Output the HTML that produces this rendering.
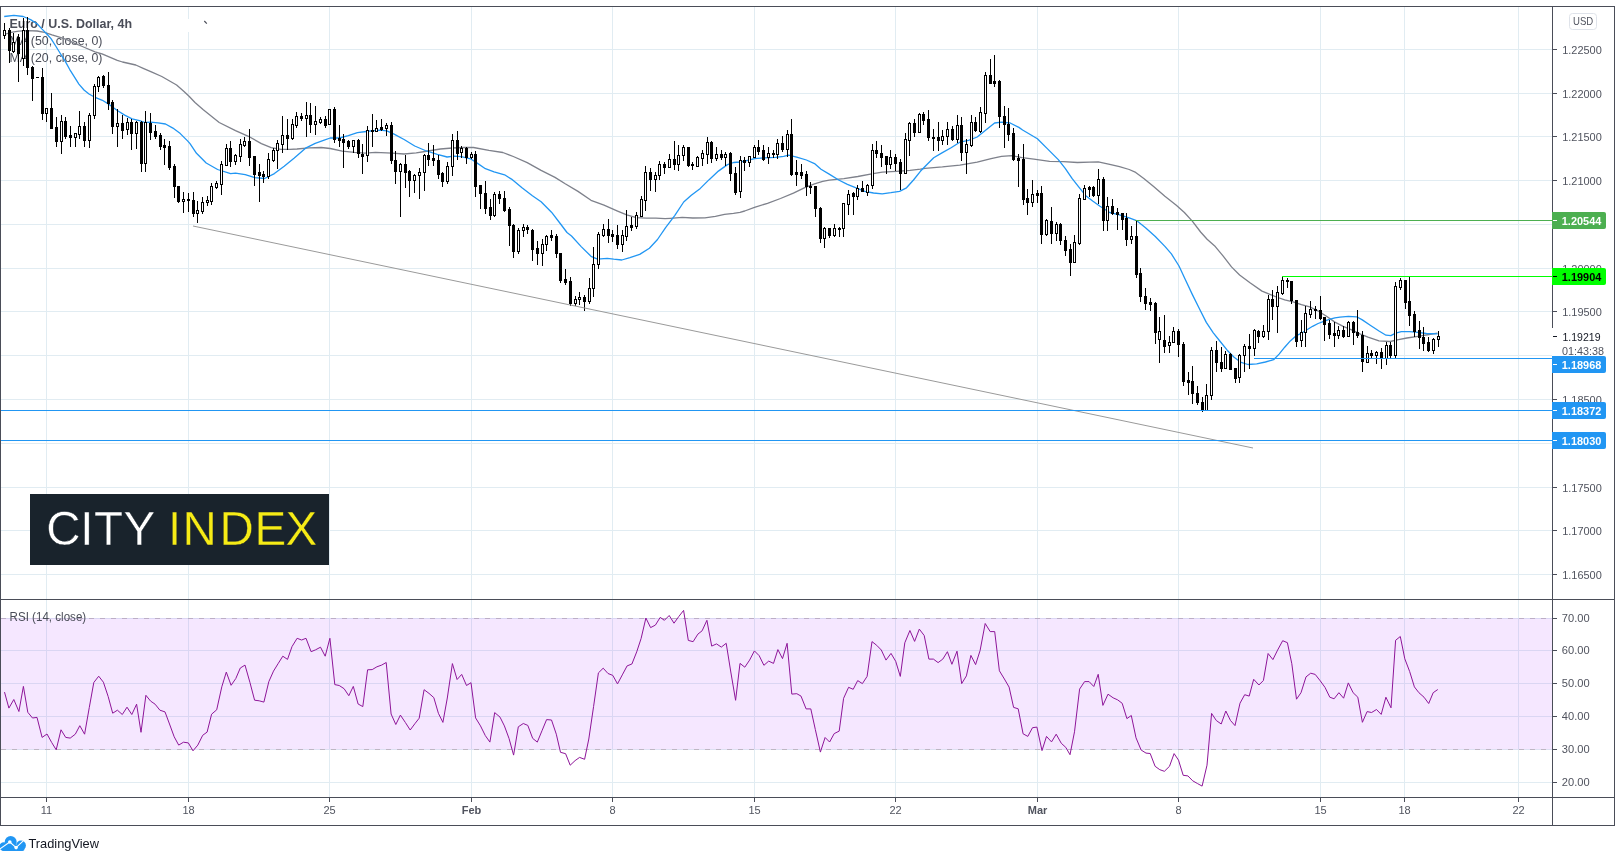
<!DOCTYPE html>
<html><head><meta charset="utf-8"><title>EUR/USD 4h</title><style>html,body{margin:0;padding:0;background:#fff;overflow:hidden}svg{display:block;will-change:transform}</style></head><body>
<svg width="1621" height="862" viewBox="0 0 1621 862" shape-rendering="crispEdges">
<rect width="1621" height="862" fill="#fff"/>
<line x1="46.5" y1="7" x2="46.5" y2="797" stroke="#e1ecf2" stroke-width="1"/>
<line x1="188.5" y1="7" x2="188.5" y2="797" stroke="#e1ecf2" stroke-width="1"/>
<line x1="329.5" y1="7" x2="329.5" y2="797" stroke="#e1ecf2" stroke-width="1"/>
<line x1="471.5" y1="7" x2="471.5" y2="797" stroke="#e1ecf2" stroke-width="1"/>
<line x1="612.5" y1="7" x2="612.5" y2="797" stroke="#e1ecf2" stroke-width="1"/>
<line x1="754.5" y1="7" x2="754.5" y2="797" stroke="#e1ecf2" stroke-width="1"/>
<line x1="895.5" y1="7" x2="895.5" y2="797" stroke="#e1ecf2" stroke-width="1"/>
<line x1="1037.5" y1="7" x2="1037.5" y2="797" stroke="#e1ecf2" stroke-width="1"/>
<line x1="1178.5" y1="7" x2="1178.5" y2="797" stroke="#e1ecf2" stroke-width="1"/>
<line x1="1320.5" y1="7" x2="1320.5" y2="797" stroke="#e1ecf2" stroke-width="1"/>
<line x1="1404.5" y1="7" x2="1404.5" y2="797" stroke="#e1ecf2" stroke-width="1"/>
<line x1="1518.5" y1="7" x2="1518.5" y2="797" stroke="#e1ecf2" stroke-width="1"/>
<line x1="1" y1="49.5" x2="1552" y2="49.5" stroke="#e1ecf2"/>
<line x1="1" y1="93.5" x2="1552" y2="93.5" stroke="#e1ecf2"/>
<line x1="1" y1="136.5" x2="1552" y2="136.5" stroke="#e1ecf2"/>
<line x1="1" y1="180.5" x2="1552" y2="180.5" stroke="#e1ecf2"/>
<line x1="1" y1="224.5" x2="1552" y2="224.5" stroke="#e1ecf2"/>
<line x1="1" y1="268.5" x2="1552" y2="268.5" stroke="#e1ecf2"/>
<line x1="1" y1="311.5" x2="1552" y2="311.5" stroke="#e1ecf2"/>
<line x1="1" y1="355.5" x2="1552" y2="355.5" stroke="#e1ecf2"/>
<line x1="1" y1="399.5" x2="1552" y2="399.5" stroke="#e1ecf2"/>
<line x1="1" y1="443.5" x2="1552" y2="443.5" stroke="#e1ecf2"/>
<line x1="1" y1="487.5" x2="1552" y2="487.5" stroke="#e1ecf2"/>
<line x1="1" y1="530.5" x2="1552" y2="530.5" stroke="#e1ecf2"/>
<line x1="1" y1="574.5" x2="1552" y2="574.5" stroke="#e1ecf2"/>
<line x1="1" y1="618.5" x2="1552" y2="618.5" stroke="#e1ecf2"/>
<line x1="1" y1="650.5" x2="1552" y2="650.5" stroke="#e1ecf2"/>
<line x1="1" y1="683.5" x2="1552" y2="683.5" stroke="#e1ecf2"/>
<line x1="1" y1="716.5" x2="1552" y2="716.5" stroke="#e1ecf2"/>
<line x1="1" y1="749.5" x2="1552" y2="749.5" stroke="#e1ecf2"/>
<line x1="1" y1="782.5" x2="1552" y2="782.5" stroke="#e1ecf2"/>
<line x1="1" y1="618.5" x2="1552" y2="618.5" stroke="#c0c0c0" stroke-dasharray="5 6"/>
<line x1="1" y1="749.5" x2="1552" y2="749.5" stroke="#c0c0c0" stroke-dasharray="5 6"/>
<rect x="1" y="618" width="1551" height="131.5" fill="#9915ff" fill-opacity="0.1" shape-rendering="auto"/>
<rect x="178" y="19" width="20" height="13" fill="#fff"/>
<path d="M204.3 21 L206.8 23.6" stroke="#4a4d58" stroke-width="1.2" shape-rendering="auto"/>
<text x="9.5" y="28" font-family="Liberation Sans, Arial, sans-serif" font-size="12.5" font-weight="bold" fill="#4a4d58" textLength="122.5" lengthAdjust="spacingAndGlyphs">Euro / U.S. Dollar, 4h</text>
<text x="9.5" y="45" font-family="Liberation Sans, Arial, sans-serif" font-size="12.5" fill="#4a4d58" textLength="93" lengthAdjust="spacingAndGlyphs">MA (50, close, 0)</text>
<text x="9.5" y="62" font-family="Liberation Sans, Arial, sans-serif" font-size="12.5" fill="#4a4d58" textLength="93" lengthAdjust="spacingAndGlyphs">MA (20, close, 0)</text>
<text x="9.6" y="621" font-family="Liberation Sans, Arial, sans-serif" font-size="12" fill="#4a4d58" textLength="76.6" lengthAdjust="spacingAndGlyphs">RSI (14, close)</text>
<polyline points="4.2,34.5 11.1,32.3 18.6,31.2 27.8,30.7 37.1,31.0 44.5,32.3 52.0,34.9 59.4,37.2 66.8,39.6 74.2,43.2 80.0,45.5 87.0,48.5 95.0,51.8 102.0,53.8 117.3,60.4 122.5,62.0 135.8,65.0 143.2,68.3 152.5,72.4 161.8,76.5 169.2,80.8 176.6,85.0 184.0,91.5 189.3,96.5 195.0,102.5 203.0,109.5 219.2,122.5 235.5,130.6 248.4,136.3 261.4,143.6 271.2,147.6 280.9,149.3 290.0,149.3 297.0,149.0 309.1,147.8 321.2,147.5 330.2,148.5 342.3,151.1 354.4,152.3 364.9,153.1 375.5,152.3 392.0,153.1 404.1,154.0 416.2,152.8 428.3,151.0 440.3,149.0 452.4,148.0 464.5,147.5 473.5,147.5 488.9,150.4 502.8,152.5 513.3,156.5 527.2,162.6 541.1,170.4 555.0,177.4 565.2,183.8 578.0,191.4 591.0,200.3 604.0,205.2 617.0,210.8 626.7,214.9 636.4,217.7 646.2,218.1 655.9,218.1 665.0,218.6 670.2,218.3 682.2,217.4 692.8,218.0 704.9,217.8 715.4,216.3 724.5,214.4 733.5,213.3 740.0,212.3 744.7,211.0 754.5,207.4 767.5,203.3 780.5,198.5 793.4,193.1 804.8,187.6 814.5,183.9 822.7,181.4 829.2,180.2 843.9,178.6 857.8,176.5 871.7,173.9 882.2,172.2 896.1,171.3 910.0,170.4 920.4,169.2 925.0,168.3 942.4,166.9 959.8,165.1 977.2,162.2 991.1,158.7 1001.5,156.4 1012.0,155.7 1022.0,157.6 1033.9,159.2 1049.6,161.3 1063.5,161.7 1077.4,162.5 1089.6,162.2 1098.3,161.8 1109.7,164.3 1119.5,166.7 1129.2,169.5 1135.7,172.4 1143.8,178.4 1153.6,186.5 1164.9,196.3 1176.3,205.2 1184.4,212.5 1192.5,221.4 1200.6,232.0 1207.1,239.3 1215.3,246.6 1223.4,256.3 1231.5,266.9 1239.6,275.0 1250.0,282.8 1262.0,291.1 1272.4,295.4 1276.4,297.0 1284.7,299.8 1293.1,301.9 1301.4,304.7 1309.8,306.8 1318.1,311.0 1326.5,316.3 1334.9,322.1 1343.2,326.3 1351.6,329.8 1359.9,333.9 1368.0,337.1 1379.0,340.8 1390.1,341.5 1398.5,339.7 1406.9,338.0 1418.0,336.3 1429.1,334.5 1437.5,333.1" fill="none" stroke="#7e818b" stroke-width="1.3" shape-rendering="auto" stroke-linejoin="round"/>
<polyline points="4.2,16.5 13.9,15.4 23.2,16.5 30.6,19.6 37.1,23.8 41.8,28.9 46.4,33.5 51.0,38.6 55.7,46.0 60.3,53.5 65.0,60.9 69.6,69.3 74.2,76.7 78.9,84.1 84.0,90.0 89.0,94.0 93.9,96.8 102.4,100.3 109.8,104.9 117.3,110.5 124.7,115.1 132.1,118.8 139.5,120.7 145.1,122.5 150.7,122.1 158.1,122.9 165.5,124.0 172.9,128.1 180.3,133.6 187.8,141.1 190.0,143.6 196.5,153.3 206.2,163.0 217.6,169.5 230.6,173.6 235.5,173.1 245.2,174.7 254.9,177.7 264.7,178.5 274.4,173.6 284.2,166.3 294.0,158.3 306.1,147.8 315.2,143.3 324.2,140.2 330.2,138.0 339.3,138.0 348.3,135.7 357.4,132.7 366.4,131.5 375.5,130.4 380.0,130.2 386.8,130.9 393.6,133.9 404.1,139.5 414.7,146.0 425.2,150.5 437.3,154.3 447.1,157.0 453.9,156.1 461.4,156.6 470.5,158.8 476.5,162.6 485.4,168.7 494.1,171.8 504.6,174.8 511.5,179.1 522.0,187.8 532.4,195.7 541.1,201.7 551.5,212.2 560.2,223.5 567.0,232.5 571.5,236.0 581.2,246.6 591.0,256.3 597.5,259.2 607.2,258.4 613.7,259.2 621.8,260.0 629.9,257.6 639.7,254.4 649.4,248.2 657.5,239.5 665.6,227.6 674.7,215.6 683.7,202.0 691.3,195.2 700.3,188.4 709.4,179.4 718.4,171.1 727.5,164.6 733.5,162.5 740.0,162.0 744.7,161.1 754.5,158.7 764.2,157.9 775.6,157.4 783.7,156.3 788.6,155.1 796.7,157.1 806.4,160.0 814.5,163.6 821.0,169.3 829.2,174.1 838.7,180.0 847.4,184.3 856.1,187.8 864.8,191.3 873.5,193.0 882.2,193.9 890.9,192.7 899.6,191.3 906.5,187.8 913.5,180.0 920.4,171.3 925.0,166.5 933.7,157.8 942.4,152.6 951.1,147.7 959.8,142.2 968.5,140.4 977.2,137.0 985.9,130.0 994.6,123.0 1001.5,122.2 1010.2,123.0 1018.9,127.4 1022.6,130.0 1037.4,138.7 1047.8,149.1 1058.3,159.6 1065.2,168.3 1072.2,178.7 1079.1,187.4 1086.1,196.1 1093.0,201.3 1100.0,206.3 1109.7,212.5 1119.5,214.9 1129.2,217.9 1136.5,220.6 1145.5,227.7 1155.3,236.5 1164.9,246.4 1171.4,253.9 1179.0,266.0 1185.4,279.8 1192.4,294.6 1199.3,308.5 1206.3,322.4 1213.3,332.8 1220.2,341.5 1227.2,350.2 1234.1,357.2 1241.1,362.4 1248.0,364.5 1256.7,363.8 1265.4,362.0 1273.6,359.7 1279.1,354.1 1284.7,347.2 1290.3,340.9 1295.9,336.0 1301.4,333.2 1307.0,329.8 1312.6,326.3 1318.1,323.5 1323.7,321.4 1329.3,319.3 1334.9,317.9 1340.0,317.1 1348.4,316.4 1356.7,316.8 1362.3,319.9 1370.6,325.5 1379.0,331.0 1386.0,335.2 1390.8,335.6 1395.7,333.1 1401.3,331.7 1409.6,331.7 1418.0,332.4 1426.4,333.5 1437.5,333.8" fill="none" stroke="#2196f3" stroke-width="1.3" shape-rendering="auto" stroke-linejoin="round"/>
<rect x="4" y="23" width="1" height="16"/>
<rect x="3" y="30" width="3" height="6"/>
<rect x="4" y="31" width="1" height="4" fill="#fff"/>
<rect x="9" y="28" width="1" height="35"/>
<rect x="8" y="30" width="3" height="21"/>
<rect x="13" y="33" width="1" height="20"/>
<rect x="12" y="42" width="3" height="10"/>
<rect x="13" y="43" width="1" height="8" fill="#fff"/>
<rect x="18" y="34" width="1" height="48"/>
<rect x="17" y="37" width="3" height="17"/>
<rect x="23" y="18" width="1" height="48"/>
<rect x="22" y="30" width="3" height="29"/>
<rect x="23" y="31" width="1" height="27" fill="#fff"/>
<rect x="27" y="17" width="1" height="58"/>
<rect x="26" y="30" width="3" height="38"/>
<rect x="32" y="66" width="1" height="35"/>
<rect x="31" y="67" width="3" height="12"/>
<rect x="37" y="77" width="1" height="1"/>
<rect x="36" y="77" width="3" height="1"/>
<rect x="42" y="68" width="1" height="52"/>
<rect x="41" y="77" width="3" height="37"/>
<rect x="46" y="108" width="1" height="14"/>
<rect x="45" y="108" width="3" height="6"/>
<rect x="46" y="109" width="1" height="4" fill="#fff"/>
<rect x="51" y="93" width="1" height="36"/>
<rect x="50" y="108" width="3" height="21"/>
<rect x="56" y="117" width="1" height="30"/>
<rect x="55" y="127" width="3" height="15"/>
<rect x="61" y="115" width="1" height="39"/>
<rect x="60" y="121" width="3" height="21"/>
<rect x="61" y="122" width="1" height="19" fill="#fff"/>
<rect x="65" y="117" width="1" height="22"/>
<rect x="64" y="121" width="3" height="16"/>
<rect x="70" y="126" width="1" height="21"/>
<rect x="69" y="135" width="3" height="3"/>
<rect x="75" y="133" width="1" height="14"/>
<rect x="74" y="133" width="3" height="5"/>
<rect x="75" y="134" width="1" height="3" fill="#fff"/>
<rect x="79" y="111" width="1" height="28"/>
<rect x="78" y="126" width="3" height="9"/>
<rect x="79" y="127" width="1" height="7" fill="#fff"/>
<rect x="84" y="122" width="1" height="25"/>
<rect x="83" y="126" width="3" height="15"/>
<rect x="89" y="113" width="1" height="35"/>
<rect x="88" y="115" width="3" height="26"/>
<rect x="89" y="116" width="1" height="24" fill="#fff"/>
<rect x="94" y="84" width="1" height="35"/>
<rect x="93" y="86" width="3" height="30"/>
<rect x="94" y="87" width="1" height="28" fill="#fff"/>
<rect x="98" y="76" width="1" height="16"/>
<rect x="97" y="77" width="3" height="10"/>
<rect x="98" y="78" width="1" height="8" fill="#fff"/>
<rect x="103" y="75" width="1" height="13"/>
<rect x="102" y="76" width="3" height="10"/>
<rect x="108" y="72" width="1" height="38"/>
<rect x="107" y="85" width="3" height="19"/>
<rect x="112" y="100" width="1" height="34"/>
<rect x="111" y="102" width="3" height="25"/>
<rect x="117" y="109" width="1" height="38"/>
<rect x="116" y="123" width="3" height="4"/>
<rect x="117" y="124" width="1" height="2" fill="#fff"/>
<rect x="122" y="115" width="1" height="24"/>
<rect x="121" y="123" width="3" height="8"/>
<rect x="127" y="118" width="1" height="17"/>
<rect x="126" y="122" width="3" height="8"/>
<rect x="127" y="123" width="1" height="6" fill="#fff"/>
<rect x="131" y="119" width="1" height="31"/>
<rect x="130" y="122" width="3" height="12"/>
<rect x="136" y="121" width="1" height="28"/>
<rect x="135" y="122" width="3" height="12"/>
<rect x="136" y="123" width="1" height="10" fill="#fff"/>
<rect x="141" y="121" width="1" height="51"/>
<rect x="140" y="122" width="3" height="42"/>
<rect x="145" y="111" width="1" height="61"/>
<rect x="144" y="122" width="3" height="42"/>
<rect x="145" y="123" width="1" height="40" fill="#fff"/>
<rect x="150" y="113" width="1" height="27"/>
<rect x="149" y="123" width="3" height="10"/>
<rect x="155" y="125" width="1" height="14"/>
<rect x="154" y="131" width="3" height="6"/>
<rect x="160" y="133" width="1" height="17"/>
<rect x="159" y="135" width="3" height="12"/>
<rect x="164" y="139" width="1" height="26"/>
<rect x="163" y="145" width="3" height="3"/>
<rect x="169" y="141" width="1" height="29"/>
<rect x="168" y="146" width="3" height="22"/>
<rect x="174" y="164" width="1" height="34"/>
<rect x="173" y="166" width="3" height="21"/>
<rect x="178" y="186" width="1" height="17"/>
<rect x="177" y="186" width="3" height="16"/>
<rect x="183" y="192" width="1" height="21"/>
<rect x="182" y="199" width="3" height="3"/>
<rect x="183" y="200" width="1" height="1" fill="#fff"/>
<rect x="188" y="193" width="1" height="19"/>
<rect x="187" y="199" width="3" height="2"/>
<rect x="193" y="192" width="1" height="25"/>
<rect x="192" y="200" width="3" height="14"/>
<rect x="197" y="201" width="1" height="22"/>
<rect x="196" y="210" width="3" height="4"/>
<rect x="197" y="211" width="1" height="2" fill="#fff"/>
<rect x="202" y="197" width="1" height="17"/>
<rect x="201" y="202" width="3" height="10"/>
<rect x="202" y="203" width="1" height="8" fill="#fff"/>
<rect x="207" y="196" width="1" height="10"/>
<rect x="206" y="200" width="3" height="3"/>
<rect x="207" y="201" width="1" height="1" fill="#fff"/>
<rect x="211" y="183" width="1" height="22"/>
<rect x="210" y="186" width="3" height="16"/>
<rect x="211" y="187" width="1" height="14" fill="#fff"/>
<rect x="216" y="181" width="1" height="8"/>
<rect x="215" y="183" width="3" height="5"/>
<rect x="216" y="184" width="1" height="3" fill="#fff"/>
<rect x="221" y="161" width="1" height="34"/>
<rect x="220" y="164" width="3" height="21"/>
<rect x="221" y="165" width="1" height="19" fill="#fff"/>
<rect x="226" y="144" width="1" height="22"/>
<rect x="225" y="148" width="3" height="18"/>
<rect x="226" y="149" width="1" height="16" fill="#fff"/>
<rect x="230" y="141" width="1" height="26"/>
<rect x="229" y="148" width="3" height="14"/>
<rect x="235" y="154" width="1" height="11"/>
<rect x="234" y="155" width="3" height="7"/>
<rect x="235" y="156" width="1" height="5" fill="#fff"/>
<rect x="240" y="139" width="1" height="23"/>
<rect x="239" y="144" width="3" height="13"/>
<rect x="240" y="145" width="1" height="11" fill="#fff"/>
<rect x="244" y="137" width="1" height="10"/>
<rect x="243" y="141" width="3" height="5"/>
<rect x="244" y="142" width="1" height="3" fill="#fff"/>
<rect x="249" y="129" width="1" height="37"/>
<rect x="248" y="141" width="3" height="17"/>
<rect x="254" y="156" width="1" height="30"/>
<rect x="253" y="156" width="3" height="19"/>
<rect x="259" y="164" width="1" height="38"/>
<rect x="258" y="172" width="3" height="4"/>
<rect x="263" y="171" width="1" height="12"/>
<rect x="262" y="174" width="3" height="3"/>
<rect x="268" y="153" width="1" height="26"/>
<rect x="267" y="159" width="3" height="18"/>
<rect x="268" y="160" width="1" height="16" fill="#fff"/>
<rect x="273" y="148" width="1" height="14"/>
<rect x="272" y="150" width="3" height="11"/>
<rect x="273" y="151" width="1" height="9" fill="#fff"/>
<rect x="277" y="140" width="1" height="29"/>
<rect x="276" y="143" width="3" height="8"/>
<rect x="277" y="144" width="1" height="6" fill="#fff"/>
<rect x="282" y="116" width="1" height="37"/>
<rect x="281" y="135" width="3" height="10"/>
<rect x="282" y="136" width="1" height="8" fill="#fff"/>
<rect x="287" y="119" width="1" height="31"/>
<rect x="286" y="135" width="3" height="4"/>
<rect x="292" y="119" width="1" height="21"/>
<rect x="291" y="124" width="3" height="15"/>
<rect x="292" y="125" width="1" height="13" fill="#fff"/>
<rect x="296" y="112" width="1" height="16"/>
<rect x="295" y="116" width="3" height="10"/>
<rect x="296" y="117" width="1" height="8" fill="#fff"/>
<rect x="301" y="113" width="1" height="8"/>
<rect x="300" y="116" width="3" height="3"/>
<rect x="306" y="102" width="1" height="35"/>
<rect x="305" y="115" width="3" height="4"/>
<rect x="306" y="116" width="1" height="2" fill="#fff"/>
<rect x="310" y="103" width="1" height="30"/>
<rect x="309" y="115" width="3" height="10"/>
<rect x="315" y="106" width="1" height="29"/>
<rect x="314" y="121" width="3" height="4"/>
<rect x="315" y="122" width="1" height="2" fill="#fff"/>
<rect x="320" y="117" width="1" height="7"/>
<rect x="319" y="119" width="3" height="4"/>
<rect x="320" y="120" width="1" height="2" fill="#fff"/>
<rect x="325" y="116" width="1" height="12"/>
<rect x="324" y="119" width="3" height="7"/>
<rect x="329" y="109" width="1" height="16"/>
<rect x="328" y="109" width="3" height="16"/>
<rect x="329" y="110" width="1" height="14" fill="#fff"/>
<rect x="334" y="107" width="1" height="36"/>
<rect x="333" y="109" width="3" height="31"/>
<rect x="339" y="125" width="1" height="22"/>
<rect x="338" y="138" width="3" height="3"/>
<rect x="343" y="134" width="1" height="34"/>
<rect x="342" y="139" width="3" height="4"/>
<rect x="348" y="140" width="1" height="9"/>
<rect x="347" y="141" width="3" height="6"/>
<rect x="353" y="140" width="1" height="13"/>
<rect x="352" y="140" width="3" height="7"/>
<rect x="353" y="141" width="1" height="5" fill="#fff"/>
<rect x="358" y="139" width="1" height="19"/>
<rect x="357" y="140" width="3" height="14"/>
<rect x="362" y="144" width="1" height="30"/>
<rect x="361" y="154" width="3" height="3"/>
<rect x="367" y="126" width="1" height="36"/>
<rect x="366" y="130" width="3" height="26"/>
<rect x="367" y="131" width="1" height="24" fill="#fff"/>
<rect x="372" y="114" width="1" height="33"/>
<rect x="371" y="130" width="3" height="2"/>
<rect x="376" y="120" width="1" height="12"/>
<rect x="375" y="128" width="3" height="4"/>
<rect x="376" y="129" width="1" height="2" fill="#fff"/>
<rect x="381" y="119" width="1" height="12"/>
<rect x="380" y="127" width="3" height="3"/>
<rect x="386" y="123" width="1" height="13"/>
<rect x="385" y="125" width="3" height="4"/>
<rect x="386" y="126" width="1" height="2" fill="#fff"/>
<rect x="391" y="122" width="1" height="42"/>
<rect x="390" y="125" width="3" height="36"/>
<rect x="395" y="151" width="1" height="33"/>
<rect x="394" y="160" width="3" height="12"/>
<rect x="400" y="163" width="1" height="54"/>
<rect x="399" y="164" width="3" height="8"/>
<rect x="400" y="165" width="1" height="6" fill="#fff"/>
<rect x="405" y="155" width="1" height="33"/>
<rect x="404" y="164" width="3" height="9"/>
<rect x="409" y="170" width="1" height="27"/>
<rect x="408" y="171" width="3" height="10"/>
<rect x="414" y="174" width="1" height="19"/>
<rect x="413" y="175" width="3" height="6"/>
<rect x="414" y="176" width="1" height="4" fill="#fff"/>
<rect x="419" y="168" width="1" height="31"/>
<rect x="418" y="172" width="3" height="4"/>
<rect x="419" y="173" width="1" height="2" fill="#fff"/>
<rect x="424" y="154" width="1" height="37"/>
<rect x="423" y="155" width="3" height="18"/>
<rect x="424" y="156" width="1" height="16" fill="#fff"/>
<rect x="428" y="143" width="1" height="23"/>
<rect x="427" y="155" width="3" height="5"/>
<rect x="433" y="145" width="1" height="21"/>
<rect x="432" y="158" width="3" height="3"/>
<rect x="438" y="155" width="1" height="24"/>
<rect x="437" y="160" width="3" height="15"/>
<rect x="442" y="172" width="1" height="15"/>
<rect x="441" y="173" width="3" height="9"/>
<rect x="447" y="162" width="1" height="22"/>
<rect x="446" y="166" width="3" height="16"/>
<rect x="447" y="167" width="1" height="14" fill="#fff"/>
<rect x="452" y="134" width="1" height="42"/>
<rect x="451" y="140" width="3" height="27"/>
<rect x="452" y="141" width="1" height="25" fill="#fff"/>
<rect x="457" y="131" width="1" height="29"/>
<rect x="456" y="140" width="3" height="14"/>
<rect x="461" y="146" width="1" height="12"/>
<rect x="460" y="148" width="3" height="5"/>
<rect x="461" y="149" width="1" height="3" fill="#fff"/>
<rect x="466" y="147" width="1" height="17"/>
<rect x="465" y="148" width="3" height="10"/>
<rect x="471" y="152" width="1" height="7"/>
<rect x="470" y="154" width="3" height="4"/>
<rect x="471" y="155" width="1" height="2" fill="#fff"/>
<rect x="475" y="151" width="1" height="46"/>
<rect x="474" y="154" width="3" height="33"/>
<rect x="480" y="185" width="1" height="24"/>
<rect x="479" y="185" width="3" height="9"/>
<rect x="485" y="181" width="1" height="33"/>
<rect x="484" y="193" width="3" height="16"/>
<rect x="490" y="199" width="1" height="21"/>
<rect x="489" y="207" width="3" height="9"/>
<rect x="494" y="192" width="1" height="25"/>
<rect x="493" y="194" width="3" height="22"/>
<rect x="494" y="195" width="1" height="20" fill="#fff"/>
<rect x="499" y="191" width="1" height="13"/>
<rect x="498" y="194" width="3" height="5"/>
<rect x="504" y="191" width="1" height="21"/>
<rect x="503" y="198" width="3" height="13"/>
<rect x="509" y="207" width="1" height="39"/>
<rect x="508" y="209" width="3" height="17"/>
<rect x="513" y="224" width="1" height="34"/>
<rect x="512" y="225" width="3" height="27"/>
<rect x="518" y="228" width="1" height="26"/>
<rect x="517" y="230" width="3" height="22"/>
<rect x="518" y="231" width="1" height="20" fill="#fff"/>
<rect x="523" y="224" width="1" height="13"/>
<rect x="522" y="227" width="3" height="4"/>
<rect x="523" y="228" width="1" height="2" fill="#fff"/>
<rect x="527" y="225" width="1" height="9"/>
<rect x="526" y="227" width="3" height="3"/>
<rect x="532" y="229" width="1" height="32"/>
<rect x="531" y="230" width="3" height="20"/>
<rect x="537" y="241" width="1" height="24"/>
<rect x="536" y="248" width="3" height="6"/>
<rect x="542" y="239" width="1" height="27"/>
<rect x="541" y="244" width="3" height="10"/>
<rect x="542" y="245" width="1" height="8" fill="#fff"/>
<rect x="546" y="235" width="1" height="16"/>
<rect x="545" y="236" width="3" height="9"/>
<rect x="546" y="237" width="1" height="7" fill="#fff"/>
<rect x="551" y="230" width="1" height="11"/>
<rect x="550" y="235" width="3" height="3"/>
<rect x="556" y="234" width="1" height="24"/>
<rect x="555" y="236" width="3" height="18"/>
<rect x="560" y="253" width="1" height="30"/>
<rect x="559" y="253" width="3" height="28"/>
<rect x="565" y="269" width="1" height="16"/>
<rect x="564" y="279" width="3" height="4"/>
<rect x="570" y="277" width="1" height="29"/>
<rect x="569" y="281" width="3" height="23"/>
<rect x="575" y="296" width="1" height="10"/>
<rect x="574" y="299" width="3" height="5"/>
<rect x="575" y="300" width="1" height="3" fill="#fff"/>
<rect x="579" y="292" width="1" height="13"/>
<rect x="578" y="297" width="3" height="3"/>
<rect x="579" y="298" width="1" height="1" fill="#fff"/>
<rect x="584" y="295" width="1" height="16"/>
<rect x="583" y="297" width="3" height="5"/>
<rect x="589" y="278" width="1" height="26"/>
<rect x="588" y="288" width="3" height="14"/>
<rect x="589" y="289" width="1" height="12" fill="#fff"/>
<rect x="593" y="247" width="1" height="50"/>
<rect x="592" y="264" width="3" height="25"/>
<rect x="593" y="265" width="1" height="23" fill="#fff"/>
<rect x="598" y="232" width="1" height="37"/>
<rect x="597" y="234" width="3" height="31"/>
<rect x="598" y="235" width="1" height="29" fill="#fff"/>
<rect x="603" y="224" width="1" height="13"/>
<rect x="602" y="229" width="3" height="7"/>
<rect x="603" y="230" width="1" height="5" fill="#fff"/>
<rect x="608" y="219" width="1" height="24"/>
<rect x="607" y="229" width="3" height="7"/>
<rect x="612" y="230" width="1" height="12"/>
<rect x="611" y="234" width="3" height="3"/>
<rect x="617" y="225" width="1" height="24"/>
<rect x="616" y="235" width="3" height="10"/>
<rect x="622" y="230" width="1" height="22"/>
<rect x="621" y="235" width="3" height="10"/>
<rect x="622" y="236" width="1" height="8" fill="#fff"/>
<rect x="626" y="210" width="1" height="31"/>
<rect x="625" y="226" width="3" height="11"/>
<rect x="626" y="227" width="1" height="9" fill="#fff"/>
<rect x="631" y="217" width="1" height="14"/>
<rect x="630" y="225" width="3" height="3"/>
<rect x="636" y="212" width="1" height="17"/>
<rect x="635" y="215" width="3" height="12"/>
<rect x="636" y="216" width="1" height="10" fill="#fff"/>
<rect x="641" y="196" width="1" height="21"/>
<rect x="640" y="199" width="3" height="18"/>
<rect x="641" y="200" width="1" height="16" fill="#fff"/>
<rect x="645" y="166" width="1" height="45"/>
<rect x="644" y="172" width="3" height="29"/>
<rect x="645" y="173" width="1" height="27" fill="#fff"/>
<rect x="650" y="168" width="1" height="23"/>
<rect x="649" y="172" width="3" height="8"/>
<rect x="655" y="172" width="1" height="20"/>
<rect x="654" y="175" width="3" height="5"/>
<rect x="655" y="176" width="1" height="3" fill="#fff"/>
<rect x="659" y="161" width="1" height="19"/>
<rect x="658" y="164" width="3" height="12"/>
<rect x="659" y="165" width="1" height="10" fill="#fff"/>
<rect x="664" y="162" width="1" height="12"/>
<rect x="663" y="164" width="3" height="4"/>
<rect x="669" y="154" width="1" height="14"/>
<rect x="668" y="159" width="3" height="9"/>
<rect x="669" y="160" width="1" height="7" fill="#fff"/>
<rect x="674" y="141" width="1" height="29"/>
<rect x="673" y="159" width="3" height="6"/>
<rect x="678" y="145" width="1" height="26"/>
<rect x="677" y="155" width="3" height="10"/>
<rect x="678" y="156" width="1" height="8" fill="#fff"/>
<rect x="683" y="145" width="1" height="16"/>
<rect x="682" y="147" width="3" height="9"/>
<rect x="683" y="148" width="1" height="7" fill="#fff"/>
<rect x="688" y="147" width="1" height="20"/>
<rect x="687" y="147" width="3" height="19"/>
<rect x="692" y="162" width="1" height="8"/>
<rect x="691" y="164" width="3" height="2"/>
<rect x="697" y="156" width="1" height="11"/>
<rect x="696" y="157" width="3" height="10"/>
<rect x="697" y="158" width="1" height="8" fill="#fff"/>
<rect x="702" y="150" width="1" height="16"/>
<rect x="701" y="153" width="3" height="6"/>
<rect x="702" y="154" width="1" height="4" fill="#fff"/>
<rect x="707" y="137" width="1" height="27"/>
<rect x="706" y="142" width="3" height="13"/>
<rect x="707" y="143" width="1" height="11" fill="#fff"/>
<rect x="711" y="141" width="1" height="22"/>
<rect x="710" y="142" width="3" height="17"/>
<rect x="716" y="147" width="1" height="14"/>
<rect x="715" y="154" width="3" height="5"/>
<rect x="716" y="155" width="1" height="3" fill="#fff"/>
<rect x="721" y="150" width="1" height="10"/>
<rect x="720" y="154" width="3" height="4"/>
<rect x="725" y="152" width="1" height="14"/>
<rect x="724" y="154" width="3" height="4"/>
<rect x="725" y="155" width="1" height="2" fill="#fff"/>
<rect x="730" y="152" width="1" height="29"/>
<rect x="729" y="153" width="3" height="21"/>
<rect x="735" y="167" width="1" height="28"/>
<rect x="734" y="173" width="3" height="20"/>
<rect x="740" y="156" width="1" height="42"/>
<rect x="739" y="160" width="3" height="32"/>
<rect x="740" y="161" width="1" height="30" fill="#fff"/>
<rect x="744" y="157" width="1" height="14"/>
<rect x="743" y="160" width="3" height="3"/>
<rect x="749" y="156" width="1" height="11"/>
<rect x="748" y="156" width="3" height="7"/>
<rect x="749" y="157" width="1" height="5" fill="#fff"/>
<rect x="754" y="145" width="1" height="13"/>
<rect x="753" y="147" width="3" height="11"/>
<rect x="754" y="148" width="1" height="9" fill="#fff"/>
<rect x="758" y="140" width="1" height="15"/>
<rect x="757" y="147" width="3" height="5"/>
<rect x="763" y="145" width="1" height="16"/>
<rect x="762" y="150" width="3" height="10"/>
<rect x="768" y="147" width="1" height="17"/>
<rect x="767" y="153" width="3" height="5"/>
<rect x="768" y="154" width="1" height="3" fill="#fff"/>
<rect x="773" y="150" width="1" height="8"/>
<rect x="772" y="153" width="3" height="2"/>
<rect x="777" y="139" width="1" height="20"/>
<rect x="776" y="143" width="3" height="12"/>
<rect x="777" y="144" width="1" height="10" fill="#fff"/>
<rect x="782" y="136" width="1" height="16"/>
<rect x="781" y="143" width="3" height="7"/>
<rect x="787" y="130" width="1" height="27"/>
<rect x="786" y="134" width="3" height="16"/>
<rect x="787" y="135" width="1" height="14" fill="#fff"/>
<rect x="791" y="119" width="1" height="57"/>
<rect x="790" y="134" width="3" height="41"/>
<rect x="796" y="160" width="1" height="26"/>
<rect x="795" y="172" width="3" height="3"/>
<rect x="801" y="164" width="1" height="15"/>
<rect x="800" y="172" width="3" height="4"/>
<rect x="806" y="171" width="1" height="25"/>
<rect x="805" y="174" width="3" height="13"/>
<rect x="810" y="182" width="1" height="12"/>
<rect x="809" y="186" width="3" height="2"/>
<rect x="815" y="186" width="1" height="31"/>
<rect x="814" y="186" width="3" height="23"/>
<rect x="820" y="207" width="1" height="36"/>
<rect x="819" y="208" width="3" height="31"/>
<rect x="824" y="227" width="1" height="21"/>
<rect x="823" y="228" width="3" height="11"/>
<rect x="824" y="229" width="1" height="9" fill="#fff"/>
<rect x="829" y="228" width="1" height="10"/>
<rect x="828" y="228" width="3" height="8"/>
<rect x="834" y="224" width="1" height="13"/>
<rect x="833" y="228" width="3" height="8"/>
<rect x="834" y="229" width="1" height="6" fill="#fff"/>
<rect x="839" y="227" width="1" height="10"/>
<rect x="838" y="228" width="3" height="2"/>
<rect x="843" y="203" width="1" height="34"/>
<rect x="842" y="203" width="3" height="26"/>
<rect x="843" y="204" width="1" height="24" fill="#fff"/>
<rect x="848" y="190" width="1" height="25"/>
<rect x="847" y="194" width="3" height="11"/>
<rect x="848" y="195" width="1" height="9" fill="#fff"/>
<rect x="853" y="192" width="1" height="23"/>
<rect x="852" y="193" width="3" height="4"/>
<rect x="857" y="185" width="1" height="15"/>
<rect x="856" y="188" width="3" height="9"/>
<rect x="857" y="189" width="1" height="7" fill="#fff"/>
<rect x="862" y="181" width="1" height="11"/>
<rect x="861" y="188" width="3" height="4"/>
<rect x="867" y="184" width="1" height="12"/>
<rect x="866" y="185" width="3" height="8"/>
<rect x="867" y="186" width="1" height="6" fill="#fff"/>
<rect x="872" y="144" width="1" height="45"/>
<rect x="871" y="150" width="3" height="36"/>
<rect x="872" y="151" width="1" height="34" fill="#fff"/>
<rect x="876" y="141" width="1" height="17"/>
<rect x="875" y="150" width="3" height="4"/>
<rect x="881" y="145" width="1" height="22"/>
<rect x="880" y="153" width="3" height="5"/>
<rect x="886" y="156" width="1" height="18"/>
<rect x="885" y="156" width="3" height="9"/>
<rect x="890" y="150" width="1" height="19"/>
<rect x="889" y="157" width="3" height="8"/>
<rect x="890" y="158" width="1" height="6" fill="#fff"/>
<rect x="895" y="154" width="1" height="17"/>
<rect x="894" y="157" width="3" height="7"/>
<rect x="900" y="159" width="1" height="31"/>
<rect x="899" y="162" width="3" height="12"/>
<rect x="905" y="133" width="1" height="41"/>
<rect x="904" y="139" width="3" height="35"/>
<rect x="905" y="140" width="1" height="33" fill="#fff"/>
<rect x="909" y="122" width="1" height="34"/>
<rect x="908" y="123" width="3" height="18"/>
<rect x="909" y="124" width="1" height="16" fill="#fff"/>
<rect x="914" y="119" width="1" height="18"/>
<rect x="913" y="123" width="3" height="10"/>
<rect x="919" y="113" width="1" height="20"/>
<rect x="918" y="114" width="3" height="19"/>
<rect x="919" y="115" width="1" height="17" fill="#fff"/>
<rect x="923" y="112" width="1" height="13"/>
<rect x="922" y="114" width="3" height="7"/>
<rect x="928" y="110" width="1" height="31"/>
<rect x="927" y="119" width="3" height="19"/>
<rect x="933" y="129" width="1" height="22"/>
<rect x="932" y="137" width="3" height="2"/>
<rect x="938" y="122" width="1" height="29"/>
<rect x="937" y="137" width="3" height="4"/>
<rect x="942" y="130" width="1" height="15"/>
<rect x="941" y="136" width="3" height="5"/>
<rect x="942" y="137" width="1" height="3" fill="#fff"/>
<rect x="947" y="122" width="1" height="23"/>
<rect x="946" y="129" width="3" height="8"/>
<rect x="947" y="130" width="1" height="6" fill="#fff"/>
<rect x="952" y="126" width="1" height="15"/>
<rect x="951" y="129" width="3" height="11"/>
<rect x="957" y="115" width="1" height="28"/>
<rect x="956" y="125" width="3" height="15"/>
<rect x="957" y="126" width="1" height="13" fill="#fff"/>
<rect x="961" y="117" width="1" height="44"/>
<rect x="960" y="125" width="3" height="28"/>
<rect x="966" y="139" width="1" height="35"/>
<rect x="965" y="144" width="3" height="9"/>
<rect x="966" y="145" width="1" height="7" fill="#fff"/>
<rect x="971" y="115" width="1" height="32"/>
<rect x="970" y="122" width="3" height="24"/>
<rect x="971" y="123" width="1" height="22" fill="#fff"/>
<rect x="975" y="117" width="1" height="15"/>
<rect x="974" y="122" width="3" height="9"/>
<rect x="980" y="107" width="1" height="26"/>
<rect x="979" y="112" width="3" height="20"/>
<rect x="980" y="113" width="1" height="18" fill="#fff"/>
<rect x="985" y="72" width="1" height="51"/>
<rect x="984" y="75" width="3" height="39"/>
<rect x="985" y="76" width="1" height="37" fill="#fff"/>
<rect x="990" y="59" width="1" height="25"/>
<rect x="989" y="75" width="3" height="9"/>
<rect x="994" y="55" width="1" height="32"/>
<rect x="993" y="81" width="3" height="3"/>
<rect x="999" y="80" width="1" height="48"/>
<rect x="998" y="81" width="3" height="36"/>
<rect x="1004" y="106" width="1" height="42"/>
<rect x="1003" y="116" width="3" height="9"/>
<rect x="1008" y="108" width="1" height="33"/>
<rect x="1007" y="124" width="3" height="11"/>
<rect x="1013" y="128" width="1" height="33"/>
<rect x="1012" y="133" width="3" height="27"/>
<rect x="1018" y="154" width="1" height="33"/>
<rect x="1017" y="158" width="3" height="3"/>
<rect x="1023" y="144" width="1" height="61"/>
<rect x="1022" y="159" width="3" height="41"/>
<rect x="1027" y="189" width="1" height="26"/>
<rect x="1026" y="198" width="3" height="5"/>
<rect x="1032" y="180" width="1" height="27"/>
<rect x="1031" y="194" width="3" height="9"/>
<rect x="1032" y="195" width="1" height="7" fill="#fff"/>
<rect x="1037" y="190" width="1" height="13"/>
<rect x="1036" y="193" width="3" height="3"/>
<rect x="1041" y="186" width="1" height="58"/>
<rect x="1040" y="193" width="3" height="42"/>
<rect x="1046" y="219" width="1" height="17"/>
<rect x="1045" y="220" width="3" height="15"/>
<rect x="1046" y="221" width="1" height="13" fill="#fff"/>
<rect x="1051" y="207" width="1" height="37"/>
<rect x="1050" y="221" width="3" height="13"/>
<rect x="1056" y="222" width="1" height="19"/>
<rect x="1055" y="224" width="3" height="10"/>
<rect x="1056" y="225" width="1" height="8" fill="#fff"/>
<rect x="1060" y="223" width="1" height="22"/>
<rect x="1059" y="224" width="3" height="17"/>
<rect x="1065" y="236" width="1" height="20"/>
<rect x="1064" y="240" width="3" height="11"/>
<rect x="1070" y="244" width="1" height="32"/>
<rect x="1069" y="249" width="3" height="14"/>
<rect x="1074" y="235" width="1" height="28"/>
<rect x="1073" y="242" width="3" height="21"/>
<rect x="1074" y="243" width="1" height="19" fill="#fff"/>
<rect x="1079" y="194" width="1" height="51"/>
<rect x="1078" y="198" width="3" height="46"/>
<rect x="1079" y="199" width="1" height="44" fill="#fff"/>
<rect x="1084" y="185" width="1" height="15"/>
<rect x="1083" y="188" width="3" height="12"/>
<rect x="1084" y="189" width="1" height="10" fill="#fff"/>
<rect x="1089" y="186" width="1" height="11"/>
<rect x="1088" y="187" width="3" height="3"/>
<rect x="1093" y="186" width="1" height="11"/>
<rect x="1092" y="187" width="3" height="9"/>
<rect x="1098" y="169" width="1" height="35"/>
<rect x="1097" y="179" width="3" height="17"/>
<rect x="1098" y="180" width="1" height="15" fill="#fff"/>
<rect x="1103" y="177" width="1" height="54"/>
<rect x="1102" y="179" width="3" height="42"/>
<rect x="1107" y="197" width="1" height="34"/>
<rect x="1106" y="206" width="3" height="15"/>
<rect x="1107" y="207" width="1" height="13" fill="#fff"/>
<rect x="1112" y="199" width="1" height="16"/>
<rect x="1111" y="206" width="3" height="8"/>
<rect x="1117" y="208" width="1" height="22"/>
<rect x="1116" y="212" width="3" height="3"/>
<rect x="1122" y="213" width="1" height="17"/>
<rect x="1121" y="213" width="3" height="7"/>
<rect x="1126" y="213" width="1" height="33"/>
<rect x="1125" y="218" width="3" height="22"/>
<rect x="1131" y="226" width="1" height="18"/>
<rect x="1130" y="236" width="3" height="4"/>
<rect x="1131" y="237" width="1" height="2" fill="#fff"/>
<rect x="1136" y="221" width="1" height="57"/>
<rect x="1135" y="236" width="3" height="39"/>
<rect x="1140" y="268" width="1" height="34"/>
<rect x="1139" y="273" width="3" height="24"/>
<rect x="1145" y="288" width="1" height="22"/>
<rect x="1144" y="296" width="3" height="8"/>
<rect x="1150" y="298" width="1" height="13"/>
<rect x="1149" y="302" width="3" height="3"/>
<rect x="1155" y="302" width="1" height="42"/>
<rect x="1154" y="303" width="3" height="30"/>
<rect x="1159" y="317" width="1" height="46"/>
<rect x="1158" y="331" width="3" height="9"/>
<rect x="1159" y="332" width="1" height="7" fill="#fff"/>
<rect x="1164" y="315" width="1" height="38"/>
<rect x="1163" y="340" width="3" height="7"/>
<rect x="1169" y="336" width="1" height="17"/>
<rect x="1168" y="342" width="3" height="4"/>
<rect x="1169" y="343" width="1" height="2" fill="#fff"/>
<rect x="1173" y="327" width="1" height="16"/>
<rect x="1172" y="331" width="3" height="12"/>
<rect x="1173" y="332" width="1" height="10" fill="#fff"/>
<rect x="1178" y="329" width="1" height="28"/>
<rect x="1177" y="331" width="3" height="14"/>
<rect x="1183" y="342" width="1" height="44"/>
<rect x="1182" y="344" width="3" height="38"/>
<rect x="1188" y="372" width="1" height="23"/>
<rect x="1187" y="380" width="3" height="3"/>
<rect x="1192" y="366" width="1" height="38"/>
<rect x="1191" y="381" width="3" height="13"/>
<rect x="1197" y="386" width="1" height="19"/>
<rect x="1196" y="393" width="3" height="10"/>
<rect x="1202" y="397" width="1" height="15"/>
<rect x="1201" y="402" width="3" height="9"/>
<rect x="1206" y="384" width="1" height="27"/>
<rect x="1205" y="395" width="3" height="16"/>
<rect x="1206" y="396" width="1" height="14" fill="#fff"/>
<rect x="1211" y="347" width="1" height="53"/>
<rect x="1210" y="350" width="3" height="46"/>
<rect x="1211" y="351" width="1" height="44" fill="#fff"/>
<rect x="1216" y="341" width="1" height="31"/>
<rect x="1215" y="350" width="3" height="13"/>
<rect x="1221" y="347" width="1" height="25"/>
<rect x="1220" y="362" width="3" height="7"/>
<rect x="1225" y="351" width="1" height="18"/>
<rect x="1224" y="354" width="3" height="15"/>
<rect x="1225" y="355" width="1" height="13" fill="#fff"/>
<rect x="1230" y="353" width="1" height="17"/>
<rect x="1229" y="354" width="3" height="16"/>
<rect x="1235" y="368" width="1" height="15"/>
<rect x="1234" y="368" width="3" height="11"/>
<rect x="1239" y="354" width="1" height="29"/>
<rect x="1238" y="355" width="3" height="23"/>
<rect x="1239" y="356" width="1" height="21" fill="#fff"/>
<rect x="1244" y="344" width="1" height="28"/>
<rect x="1243" y="346" width="3" height="10"/>
<rect x="1244" y="347" width="1" height="8" fill="#fff"/>
<rect x="1249" y="334" width="1" height="35"/>
<rect x="1248" y="346" width="3" height="3"/>
<rect x="1254" y="329" width="1" height="27"/>
<rect x="1253" y="330" width="3" height="19"/>
<rect x="1254" y="331" width="1" height="17" fill="#fff"/>
<rect x="1258" y="330" width="1" height="13"/>
<rect x="1257" y="331" width="3" height="6"/>
<rect x="1263" y="325" width="1" height="13"/>
<rect x="1262" y="331" width="3" height="6"/>
<rect x="1263" y="332" width="1" height="4" fill="#fff"/>
<rect x="1268" y="295" width="1" height="45"/>
<rect x="1267" y="299" width="3" height="33"/>
<rect x="1268" y="300" width="1" height="31" fill="#fff"/>
<rect x="1272" y="290" width="1" height="30"/>
<rect x="1271" y="299" width="3" height="8"/>
<rect x="1277" y="286" width="1" height="47"/>
<rect x="1276" y="292" width="3" height="15"/>
<rect x="1277" y="293" width="1" height="13" fill="#fff"/>
<rect x="1282" y="277" width="1" height="18"/>
<rect x="1281" y="280" width="3" height="14"/>
<rect x="1282" y="281" width="1" height="12" fill="#fff"/>
<rect x="1287" y="278" width="1" height="10"/>
<rect x="1286" y="280" width="3" height="2"/>
<rect x="1291" y="281" width="1" height="23"/>
<rect x="1290" y="281" width="3" height="20"/>
<rect x="1296" y="300" width="1" height="47"/>
<rect x="1295" y="300" width="3" height="42"/>
<rect x="1301" y="320" width="1" height="27"/>
<rect x="1300" y="332" width="3" height="9"/>
<rect x="1301" y="333" width="1" height="7" fill="#fff"/>
<rect x="1305" y="306" width="1" height="41"/>
<rect x="1304" y="313" width="3" height="20"/>
<rect x="1305" y="314" width="1" height="18" fill="#fff"/>
<rect x="1310" y="301" width="1" height="17"/>
<rect x="1309" y="309" width="3" height="6"/>
<rect x="1310" y="310" width="1" height="4" fill="#fff"/>
<rect x="1315" y="306" width="1" height="13"/>
<rect x="1314" y="309" width="3" height="2"/>
<rect x="1320" y="296" width="1" height="24"/>
<rect x="1319" y="310" width="3" height="9"/>
<rect x="1324" y="317" width="1" height="24"/>
<rect x="1323" y="317" width="3" height="8"/>
<rect x="1329" y="320" width="1" height="19"/>
<rect x="1328" y="323" width="3" height="12"/>
<rect x="1334" y="322" width="1" height="25"/>
<rect x="1333" y="333" width="3" height="3"/>
<rect x="1338" y="326" width="1" height="13"/>
<rect x="1337" y="330" width="3" height="6"/>
<rect x="1338" y="331" width="1" height="4" fill="#fff"/>
<rect x="1343" y="326" width="1" height="12"/>
<rect x="1342" y="330" width="3" height="7"/>
<rect x="1348" y="321" width="1" height="16"/>
<rect x="1347" y="322" width="3" height="15"/>
<rect x="1348" y="323" width="1" height="13" fill="#fff"/>
<rect x="1353" y="321" width="1" height="24"/>
<rect x="1352" y="322" width="3" height="11"/>
<rect x="1357" y="310" width="1" height="28"/>
<rect x="1356" y="332" width="3" height="4"/>
<rect x="1362" y="331" width="1" height="41"/>
<rect x="1361" y="335" width="3" height="27"/>
<rect x="1367" y="346" width="1" height="17"/>
<rect x="1366" y="353" width="3" height="10"/>
<rect x="1367" y="354" width="1" height="8" fill="#fff"/>
<rect x="1371" y="350" width="1" height="8"/>
<rect x="1370" y="353" width="3" height="3"/>
<rect x="1376" y="351" width="1" height="13"/>
<rect x="1375" y="352" width="3" height="4"/>
<rect x="1376" y="353" width="1" height="2" fill="#fff"/>
<rect x="1381" y="348" width="1" height="21"/>
<rect x="1380" y="352" width="3" height="7"/>
<rect x="1386" y="342" width="1" height="23"/>
<rect x="1385" y="345" width="3" height="14"/>
<rect x="1386" y="346" width="1" height="12" fill="#fff"/>
<rect x="1390" y="342" width="1" height="17"/>
<rect x="1389" y="345" width="3" height="11"/>
<rect x="1395" y="282" width="1" height="77"/>
<rect x="1394" y="286" width="3" height="70"/>
<rect x="1395" y="287" width="1" height="68" fill="#fff"/>
<rect x="1400" y="278" width="1" height="12"/>
<rect x="1399" y="280" width="3" height="8"/>
<rect x="1400" y="281" width="1" height="6" fill="#fff"/>
<rect x="1405" y="280" width="1" height="29"/>
<rect x="1404" y="280" width="3" height="23"/>
<rect x="1409" y="277" width="1" height="49"/>
<rect x="1408" y="301" width="3" height="15"/>
<rect x="1414" y="311" width="1" height="26"/>
<rect x="1413" y="314" width="3" height="18"/>
<rect x="1419" y="321" width="1" height="28"/>
<rect x="1418" y="330" width="3" height="8"/>
<rect x="1423" y="327" width="1" height="24"/>
<rect x="1422" y="337" width="3" height="7"/>
<rect x="1428" y="337" width="1" height="15"/>
<rect x="1427" y="342" width="3" height="9"/>
<rect x="1433" y="338" width="1" height="16"/>
<rect x="1432" y="339" width="3" height="12"/>
<rect x="1433" y="340" width="1" height="10" fill="#fff"/>
<rect x="1438" y="331" width="1" height="16"/>
<rect x="1437" y="336" width="3" height="4"/>
<rect x="1438" y="337" width="1" height="2" fill="#fff"/>
<line x1="193" y1="226" x2="1253" y2="448" stroke="#9a9a9a" stroke-width="1" shape-rendering="auto"/>
<line x1="1135" y1="220.5" x2="1552" y2="220.5" stroke="#4caf50"/>
<line x1="1282" y1="276.5" x2="1552" y2="276.5" stroke="#00ff00"/>
<line x1="1254" y1="358.5" x2="1552" y2="358.5" stroke="#2196f3"/>
<line x1="1" y1="410.5" x2="1552" y2="410.5" stroke="#2196f3"/>
<line x1="1" y1="440.5" x2="1552" y2="440.5" stroke="#2196f3"/>
<polyline points="4.5,692.1 8.9,708.1 13.8,699.5 18.9,711.5 23.4,686.4 27.8,712.3 32.5,718.0 37.0,717.4 42.1,737.4 47.0,734.0 51.7,742.5 56.2,749.8 61.0,729.8 65.7,737.4 70.2,738.1 75.3,734.2 79.8,725.7 84.6,734.2 89.3,707.4 93.8,682.5 98.7,676.2 103.4,682.2 108.2,696.6 112.7,713.2 117.4,710.2 122.3,714.5 127.0,707.2 131.8,714.5 136.6,704.2 141.0,732.3 145.9,695.3 150.6,701.1 155.1,704.2 159.9,710.2 165.0,711.9 169.5,724.0 174.2,736.8 178.7,745.1 183.5,742.2 188.3,742.9 193.0,750.8 197.8,745.1 202.7,735.3 207.1,732.1 211.6,714.2 216.7,709.8 221.8,686.8 226.3,672.1 231.1,685.3 235.8,678.5 240.3,668.0 245.0,665.1 249.9,682.3 254.6,700.2 259.2,700.8 263.9,702.1 268.8,681.7 273.5,671.1 278.0,663.8 282.8,656.2 287.5,659.4 292.0,646.6 297.1,638.3 301.6,640.0 306.0,638.3 311.1,651.7 315.6,649.8 320.5,647.2 325.2,656.2 329.9,638.3 334.8,684.6 339.2,685.5 344.1,688.7 348.8,695.7 353.3,686.4 358.1,704.0 362.8,706.6 367.6,669.8 372.2,669.6 376.9,666.8 381.6,665.1 386.2,662.5 391.1,714.0 395.8,724.5 400.4,715.1 405.3,722.4 410.2,730.0 414.8,723.8 419.2,718.2 424.1,689.7 429.0,693.4 433.8,697.6 438.4,713.3 442.9,722.4 447.3,698.0 452.4,663.6 457.1,679.5 461.7,674.4 466.5,685.5 471.0,682.7 475.6,717.9 480.5,725.9 485.3,735.6 489.9,742.1 494.7,712.6 500.0,717.1 504.4,725.9 509.0,738.4 513.6,755.1 518.3,726.8 523.3,723.5 527.8,725.4 532.7,738.4 537.3,742.1 542.0,730.7 546.6,719.6 551.5,720.0 556.3,734.2 560.5,752.3 565.6,753.7 570.2,765.2 575.1,760.6 579.6,757.4 584.6,759.3 588.8,739.0 593.6,706.4 598.4,672.9 603.2,668.2 608.0,673.5 612.8,675.4 617.5,683.9 622.3,674.9 627.1,665.9 631.9,664.0 636.7,651.9 641.1,638.5 645.9,618.0 650.6,627.6 655.4,625.1 660.2,617.4 664.4,620.3 669.2,615.5 674.0,623.2 678.8,616.5 683.6,610.4 688.3,640.4 693.1,641.7 697.9,634.1 702.1,630.8 706.9,620.3 711.7,646.1 716.5,643.9 721.3,647.1 726.2,643.3 730.8,672.0 735.6,700.3 740.0,663.4 744.8,667.2 749.6,660.1 754.4,650.9 759.2,655.7 763.9,665.3 768.7,661.1 773.5,663.4 777.9,649.6 782.5,658.6 787.1,643.3 791.8,694.1 796.8,693.7 801.0,696.1 806.1,708.9 810.8,708.9 815.3,729.4 820.4,752.1 825.1,737.5 829.6,742.0 834.2,733.6 839.2,731.1 843.6,698.3 848.6,687.3 853.2,689.3 857.7,680.6 862.4,683.6 867.1,676.4 872.0,641.6 876.7,645.3 881.3,650.0 886.0,660.1 891.0,653.4 895.7,661.3 900.3,676.4 904.8,642.8 909.9,630.5 914.6,641.4 919.3,629.1 924.2,635.5 928.9,659.1 933.4,659.1 938.1,662.6 942.8,659.1 947.4,651.7 951.9,664.3 957.0,651.2 961.7,683.6 966.4,675.9 970.9,655.4 975.6,664.6 980.1,650.5 985.2,623.5 990.2,631.6 994.7,631.6 999.4,670.8 1004.4,679.0 1009.1,687.1 1013.6,707.4 1018.2,708.8 1023.1,733.8 1027.8,736.4 1032.5,727.7 1036.9,727.1 1042.0,750.6 1046.5,736.4 1051.5,741.9 1056.2,734.2 1061.3,743.3 1065.8,747.4 1070.0,754.7 1074.5,731.8 1079.6,689.1 1084.6,681.6 1089.1,681.6 1093.8,686.5 1098.2,674.3 1102.9,705.4 1108.0,694.2 1113.1,697.8 1117.7,699.9 1122.2,703.3 1126.9,718.6 1131.3,715.5 1136.0,737.8 1141.1,750.0 1146.0,753.1 1150.2,753.5 1155.1,766.3 1159.8,769.7 1164.4,771.3 1169.5,766.3 1174.1,753.6 1178.5,760.1 1183.2,775.3 1187.9,775.9 1192.7,780.8 1197.4,783.5 1202.1,786.1 1207.0,765.2 1211.6,713.4 1216.3,720.5 1221.2,724.0 1225.8,711.0 1230.5,720.5 1235.0,725.6 1240.0,703.2 1244.7,694.7 1249.2,696.1 1253.7,679.3 1258.9,685.0 1263.4,680.5 1268.1,653.5 1272.9,659.6 1277.6,650.1 1282.7,640.7 1287.4,642.7 1291.8,663.7 1296.5,699.2 1301.0,692.7 1306.0,676.9 1310.7,673.2 1315.2,674.4 1320.3,680.9 1325.0,687.4 1329.8,697.2 1334.1,698.8 1338.9,692.7 1343.6,698.2 1348.3,682.9 1353.1,692.7 1357.8,697.2 1362.4,722.3 1367.1,711.6 1371.6,712.5 1376.5,709.5 1381.2,714.4 1385.9,697.2 1391.0,707.8 1395.6,640.3 1400.3,636.5 1404.8,658.8 1409.7,671.6 1414.4,686.9 1418.9,692.7 1424.0,697.2 1428.7,703.5 1433.2,692.7 1437.8,689.5" fill="none" stroke="#8e1599" stroke-width="1" shape-rendering="auto" stroke-linejoin="round"/>
<rect x="30" y="494" width="299" height="71" fill="#19232c"/>
<text x="46.29 80.22 93.93 123.56" y="545.2" font-family="Liberation Sans, Arial, sans-serif" font-size="47.5" fill="#fff" stroke="#19232c" stroke-width="0.4">CITY</text>
<text x="168.12 182.40 219.40 254.50 285.43" y="545.2" font-family="Liberation Sans, Arial, sans-serif" font-size="47.5" fill="#f6eb16" stroke="#19232c" stroke-width="0.4">INDEX</text>
<rect x="1553" y="7" width="61" height="818" fill="#fff"/>
<line x1="1552.5" y1="7" x2="1552.5" y2="825" stroke="#4a4d58"/>
<line x1="1" y1="599.5" x2="1614" y2="599.5" stroke="#4a4d58"/>
<line x1="1" y1="797.5" x2="1614" y2="797.5" stroke="#4a4d58"/>
<line x1="1553" y1="49.5" x2="1557" y2="49.5" stroke="#4a4d58"/>
<text x="1562.2" y="53.5" font-family="Liberation Sans, Arial, sans-serif" font-size="11" fill="#50535e" textLength="39.6" lengthAdjust="spacingAndGlyphs">1.22500</text>
<line x1="1553" y1="93.5" x2="1557" y2="93.5" stroke="#4a4d58"/>
<text x="1562.2" y="97.5" font-family="Liberation Sans, Arial, sans-serif" font-size="11" fill="#50535e" textLength="39.6" lengthAdjust="spacingAndGlyphs">1.22000</text>
<line x1="1553" y1="136.5" x2="1557" y2="136.5" stroke="#4a4d58"/>
<text x="1562.2" y="140.5" font-family="Liberation Sans, Arial, sans-serif" font-size="11" fill="#50535e" textLength="39.6" lengthAdjust="spacingAndGlyphs">1.21500</text>
<line x1="1553" y1="180.5" x2="1557" y2="180.5" stroke="#4a4d58"/>
<text x="1562.2" y="184.5" font-family="Liberation Sans, Arial, sans-serif" font-size="11" fill="#50535e" textLength="39.6" lengthAdjust="spacingAndGlyphs">1.21000</text>
<line x1="1553" y1="224.5" x2="1557" y2="224.5" stroke="#4a4d58"/>
<text x="1562.2" y="228.5" font-family="Liberation Sans, Arial, sans-serif" font-size="11" fill="#50535e" textLength="39.6" lengthAdjust="spacingAndGlyphs">1.20500</text>
<line x1="1553" y1="268.5" x2="1557" y2="268.5" stroke="#4a4d58"/>
<text x="1562.2" y="272.5" font-family="Liberation Sans, Arial, sans-serif" font-size="11" fill="#50535e" textLength="39.6" lengthAdjust="spacingAndGlyphs">1.20000</text>
<line x1="1553" y1="311.5" x2="1557" y2="311.5" stroke="#4a4d58"/>
<text x="1562.2" y="315.5" font-family="Liberation Sans, Arial, sans-serif" font-size="11" fill="#50535e" textLength="39.6" lengthAdjust="spacingAndGlyphs">1.19500</text>
<line x1="1553" y1="355.5" x2="1557" y2="355.5" stroke="#4a4d58"/>
<text x="1562.2" y="359.5" font-family="Liberation Sans, Arial, sans-serif" font-size="11" fill="#50535e" textLength="39.6" lengthAdjust="spacingAndGlyphs">1.19000</text>
<line x1="1553" y1="399.5" x2="1557" y2="399.5" stroke="#4a4d58"/>
<text x="1562.2" y="403.5" font-family="Liberation Sans, Arial, sans-serif" font-size="11" fill="#50535e" textLength="39.6" lengthAdjust="spacingAndGlyphs">1.18500</text>
<line x1="1553" y1="443.5" x2="1557" y2="443.5" stroke="#4a4d58"/>
<text x="1562.2" y="447.5" font-family="Liberation Sans, Arial, sans-serif" font-size="11" fill="#50535e" textLength="39.6" lengthAdjust="spacingAndGlyphs">1.18000</text>
<line x1="1553" y1="487.5" x2="1557" y2="487.5" stroke="#4a4d58"/>
<text x="1562.2" y="491.5" font-family="Liberation Sans, Arial, sans-serif" font-size="11" fill="#50535e" textLength="39.6" lengthAdjust="spacingAndGlyphs">1.17500</text>
<line x1="1553" y1="530.5" x2="1557" y2="530.5" stroke="#4a4d58"/>
<text x="1562.2" y="534.5" font-family="Liberation Sans, Arial, sans-serif" font-size="11" fill="#50535e" textLength="39.6" lengthAdjust="spacingAndGlyphs">1.17000</text>
<line x1="1553" y1="574.5" x2="1557" y2="574.5" stroke="#4a4d58"/>
<text x="1562.2" y="578.5" font-family="Liberation Sans, Arial, sans-serif" font-size="11" fill="#50535e" textLength="39.6" lengthAdjust="spacingAndGlyphs">1.16500</text>
<line x1="1553" y1="618.5" x2="1557" y2="618.5" stroke="#4a4d58"/>
<text x="1561.8" y="622.3" font-family="Liberation Sans, Arial, sans-serif" font-size="11" fill="#50535e" textLength="27.8" lengthAdjust="spacingAndGlyphs">70.00</text>
<line x1="1553" y1="650.5" x2="1557" y2="650.5" stroke="#4a4d58"/>
<text x="1561.8" y="654.3" font-family="Liberation Sans, Arial, sans-serif" font-size="11" fill="#50535e" textLength="27.8" lengthAdjust="spacingAndGlyphs">60.00</text>
<line x1="1553" y1="683.5" x2="1557" y2="683.5" stroke="#4a4d58"/>
<text x="1561.8" y="687.3" font-family="Liberation Sans, Arial, sans-serif" font-size="11" fill="#50535e" textLength="27.8" lengthAdjust="spacingAndGlyphs">50.00</text>
<line x1="1553" y1="716.5" x2="1557" y2="716.5" stroke="#4a4d58"/>
<text x="1561.8" y="720.3" font-family="Liberation Sans, Arial, sans-serif" font-size="11" fill="#50535e" textLength="27.8" lengthAdjust="spacingAndGlyphs">40.00</text>
<line x1="1553" y1="749.5" x2="1557" y2="749.5" stroke="#4a4d58"/>
<text x="1561.8" y="753.3" font-family="Liberation Sans, Arial, sans-serif" font-size="11" fill="#50535e" textLength="27.8" lengthAdjust="spacingAndGlyphs">30.00</text>
<line x1="1553" y1="782.5" x2="1557" y2="782.5" stroke="#4a4d58"/>
<text x="1561.8" y="786.3" font-family="Liberation Sans, Arial, sans-serif" font-size="11" fill="#50535e" textLength="27.8" lengthAdjust="spacingAndGlyphs">20.00</text>
<rect x="1569.5" y="13.5" width="27" height="16" rx="3" fill="#fff" stroke="#dfe3ea" shape-rendering="auto"/>
<text x="1573" y="25.4" font-family="Liberation Sans, Arial, sans-serif" font-size="11" fill="#50535e" textLength="20.2" lengthAdjust="spacingAndGlyphs">USD</text>
<rect x="1552" y="328" width="57" height="28" fill="#fff"/>
<line x1="1553" y1="336.5" x2="1557" y2="336.5" stroke="#131722"/>
<text x="1562.5" y="341" font-family="Liberation Sans, Arial, sans-serif" font-size="11" fill="#131722" textLength="38" lengthAdjust="spacingAndGlyphs">1.19219</text>
<text x="1562" y="354.5" font-family="Liberation Sans, Arial, sans-serif" font-size="11" fill="#50535e" textLength="42" lengthAdjust="spacingAndGlyphs">01:43:38</text>
<path d="M1552 212 H1604 Q1606 212 1606 214 V227 Q1606 229 1604 229 H1552 Z" fill="#4caf50" shape-rendering="auto"/>
<line x1="1553" y1="220.5" x2="1557" y2="220.5" stroke="#fff"/>
<text x="1561.8" y="224.8" font-family="Liberation Sans, Arial, sans-serif" font-size="11" font-weight="bold" fill="#fff" textLength="39.5" lengthAdjust="spacingAndGlyphs">1.20544</text>
<path d="M1552 268 H1604 Q1606 268 1606 270 V283 Q1606 285 1604 285 H1552 Z" fill="#00ff00" shape-rendering="auto"/>
<line x1="1553" y1="276.5" x2="1557" y2="276.5" stroke="#000"/>
<text x="1561.8" y="280.8" font-family="Liberation Sans, Arial, sans-serif" font-size="11" font-weight="bold" fill="#000" textLength="39.5" lengthAdjust="spacingAndGlyphs">1.19904</text>
<path d="M1552 356 H1604 Q1606 356 1606 358 V371 Q1606 373 1604 373 H1552 Z" fill="#2196f3" shape-rendering="auto"/>
<line x1="1553" y1="364.5" x2="1557" y2="364.5" stroke="#fff"/>
<text x="1561.8" y="368.8" font-family="Liberation Sans, Arial, sans-serif" font-size="11" font-weight="bold" fill="#fff" textLength="39.5" lengthAdjust="spacingAndGlyphs">1.18968</text>
<path d="M1552 402 H1604 Q1606 402 1606 404 V417 Q1606 419 1604 419 H1552 Z" fill="#2196f3" shape-rendering="auto"/>
<line x1="1553" y1="410.5" x2="1557" y2="410.5" stroke="#fff"/>
<text x="1561.8" y="414.8" font-family="Liberation Sans, Arial, sans-serif" font-size="11" font-weight="bold" fill="#fff" textLength="39.5" lengthAdjust="spacingAndGlyphs">1.18372</text>
<path d="M1552 432 H1604 Q1606 432 1606 434 V447 Q1606 449 1604 449 H1552 Z" fill="#2196f3" shape-rendering="auto"/>
<line x1="1553" y1="440.5" x2="1557" y2="440.5" stroke="#fff"/>
<text x="1561.8" y="444.8" font-family="Liberation Sans, Arial, sans-serif" font-size="11" font-weight="bold" fill="#fff" textLength="39.5" lengthAdjust="spacingAndGlyphs">1.18030</text>
<line x1="46.5" y1="798" x2="46.5" y2="802" stroke="#4a4d58"/>
<text x="46.5" y="814" font-family="Liberation Sans, Arial, sans-serif" font-size="11" fill="#50535e" text-anchor="middle">11</text>
<line x1="188.5" y1="798" x2="188.5" y2="802" stroke="#4a4d58"/>
<text x="188.5" y="814" font-family="Liberation Sans, Arial, sans-serif" font-size="11" fill="#50535e" text-anchor="middle">18</text>
<line x1="329.5" y1="798" x2="329.5" y2="802" stroke="#4a4d58"/>
<text x="329.5" y="814" font-family="Liberation Sans, Arial, sans-serif" font-size="11" fill="#50535e" text-anchor="middle">25</text>
<line x1="471.5" y1="798" x2="471.5" y2="802" stroke="#4a4d58"/>
<text x="471.5" y="814" font-family="Liberation Sans, Arial, sans-serif" font-size="11" font-weight="bold" fill="#50535e" text-anchor="middle">Feb</text>
<line x1="612.5" y1="798" x2="612.5" y2="802" stroke="#4a4d58"/>
<text x="612.5" y="814" font-family="Liberation Sans, Arial, sans-serif" font-size="11" fill="#50535e" text-anchor="middle">8</text>
<line x1="754.5" y1="798" x2="754.5" y2="802" stroke="#4a4d58"/>
<text x="754.5" y="814" font-family="Liberation Sans, Arial, sans-serif" font-size="11" fill="#50535e" text-anchor="middle">15</text>
<line x1="895.5" y1="798" x2="895.5" y2="802" stroke="#4a4d58"/>
<text x="895.5" y="814" font-family="Liberation Sans, Arial, sans-serif" font-size="11" fill="#50535e" text-anchor="middle">22</text>
<line x1="1037.5" y1="798" x2="1037.5" y2="802" stroke="#4a4d58"/>
<text x="1037.5" y="814" font-family="Liberation Sans, Arial, sans-serif" font-size="11" font-weight="bold" fill="#50535e" text-anchor="middle">Mar</text>
<line x1="1178.5" y1="798" x2="1178.5" y2="802" stroke="#4a4d58"/>
<text x="1178.5" y="814" font-family="Liberation Sans, Arial, sans-serif" font-size="11" fill="#50535e" text-anchor="middle">8</text>
<line x1="1320.5" y1="798" x2="1320.5" y2="802" stroke="#4a4d58"/>
<text x="1320.5" y="814" font-family="Liberation Sans, Arial, sans-serif" font-size="11" fill="#50535e" text-anchor="middle">15</text>
<line x1="1404.5" y1="798" x2="1404.5" y2="802" stroke="#4a4d58"/>
<text x="1404.5" y="814" font-family="Liberation Sans, Arial, sans-serif" font-size="11" fill="#50535e" text-anchor="middle">18</text>
<line x1="1518.5" y1="798" x2="1518.5" y2="802" stroke="#4a4d58"/>
<text x="1518.5" y="814" font-family="Liberation Sans, Arial, sans-serif" font-size="11" fill="#50535e" text-anchor="middle">22</text>
<rect x="0.5" y="6.5" width="1614" height="819" fill="none" stroke="#4a4d58"/>
<g shape-rendering="auto"><g fill="#2196f3"><circle cx="10.7" cy="842" r="6"/><circle cx="21" cy="845.4" r="4.9"/><circle cx="3.8" cy="846.6" r="4.4"/><rect x="2" y="845" width="22.5" height="6" rx="2"/></g><polyline points="-1,849.6 9.8,842 16.1,847.6 23.5,840.6" fill="none" stroke="#fff" stroke-width="1.1"/><circle cx="9.8" cy="842" r="1.8" fill="#fff"/><circle cx="16.1" cy="847.6" r="1.8" fill="#fff"/></g>
<text x="28.5" y="848" font-family="Liberation Sans, Arial, sans-serif" font-size="13" fill="#131722" textLength="70.5" lengthAdjust="spacingAndGlyphs">TradingView</text>
</svg>
</body></html>
